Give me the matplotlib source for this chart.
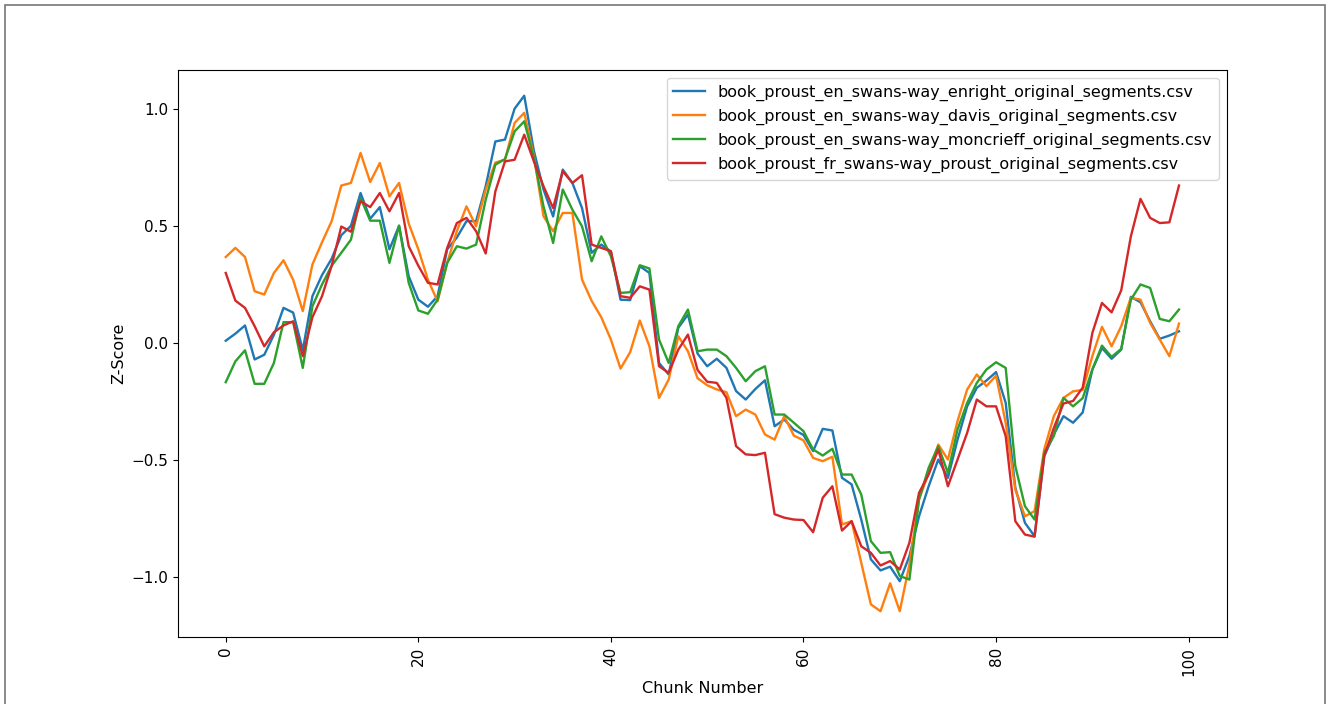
import matplotlib
matplotlib.use('Agg')
from matplotlib import pyplot as plt
import numpy as np

chunks = list(range(100))

enright = [0.01, 0.04, 0.075, -0.07, -0.05, 0.035, 0.15, 0.13, -0.03, 0.2,
           0.29, 0.36, 0.46, 0.5, 0.64, 0.53, 0.58, 0.4, 0.5, 0.285,
           0.185, 0.155, 0.2, 0.4, 0.45, 0.52, 0.52, 0.67, 0.86, 0.868,
           1.0, 1.055, 0.82, 0.655, 0.54, 0.74, 0.683, 0.576, 0.385, 0.42,
           0.39, 0.185, 0.183, 0.328, 0.299, -0.085, -0.134, 0.065, 0.122, -0.045,
           -0.099, -0.067, -0.106, -0.205, -0.241, -0.196, -0.159, -0.355, -0.326, -0.37,
           -0.392, -0.461, -0.366, -0.373, -0.575, -0.603, -0.753, -0.923, -0.97, -0.954,
           -1.016, -0.909, -0.739, -0.611, -0.497, -0.575, -0.412, -0.27, -0.191, -0.16,
           -0.124, -0.255, -0.617, -0.767, -0.824, -0.483, -0.39, -0.312, -0.34, -0.296,
           -0.113, -0.021, -0.067, -0.028, 0.197, 0.174, 0.093, 0.018, 0.032, 0.05]

davis = [0.367, 0.406, 0.367, 0.221, 0.207, 0.299, 0.353, 0.27, 0.136, 0.335,
         0.43, 0.52, 0.672, 0.683, 0.811, 0.687, 0.768, 0.626, 0.683, 0.51,
         0.4, 0.27, 0.178, 0.343, 0.477, 0.583, 0.498, 0.655, 0.77, 0.782,
         0.939, 0.982, 0.797, 0.541, 0.477, 0.555, 0.555, 0.271, 0.18, 0.11,
         0.015, -0.109, -0.039, 0.096, -0.014, -0.234, -0.156, 0.029, -0.035, -0.15,
         -0.18, -0.198, -0.21, -0.312, -0.284, -0.305, -0.39, -0.412, -0.312, -0.395,
         -0.415, -0.49, -0.504, -0.485, -0.774, -0.76, -0.937, -1.115, -1.144, -1.025,
         -1.144, -0.945, -0.667, -0.554, -0.433, -0.497, -0.333, -0.198, -0.134, -0.184,
         -0.139, -0.34, -0.625, -0.739, -0.717, -0.454, -0.312, -0.234, -0.206, -0.2,
         -0.056, 0.069, -0.014, 0.072, 0.193, 0.185, 0.086, 0.015, -0.056, 0.083]

moncrieff = [-0.167, -0.078, -0.031, -0.174, -0.174, -0.085, 0.089, 0.089, -0.106, 0.157,
             0.25, 0.33, 0.385, 0.441, 0.619, 0.522, 0.522, 0.342, 0.501, 0.257,
             0.139, 0.125, 0.185, 0.342, 0.413, 0.403, 0.42, 0.612, 0.761, 0.785,
             0.903, 0.946, 0.79, 0.583, 0.427, 0.655, 0.569, 0.498, 0.349, 0.455,
             0.37, 0.214, 0.217, 0.332, 0.318, 0.015, -0.085, 0.072, 0.143, -0.035,
             -0.028, -0.028, -0.056, -0.106, -0.163, -0.12, -0.099, -0.305, -0.305, -0.34,
             -0.376, -0.454, -0.48, -0.451, -0.561, -0.561, -0.646, -0.845, -0.895, -0.892,
             -0.994, -1.009, -0.667, -0.532, -0.44, -0.554, -0.369, -0.255, -0.17, -0.113,
             -0.082, -0.106, -0.525, -0.696, -0.753, -0.468, -0.397, -0.234, -0.27, -0.235,
             -0.113, -0.011, -0.059, -0.025, 0.185, 0.25, 0.235, 0.103, 0.093, 0.143]

proust = [0.299, 0.181, 0.15, 0.072, -0.014, 0.046, 0.075, 0.093, -0.056, 0.11,
          0.2, 0.33, 0.497, 0.475, 0.605, 0.58, 0.64, 0.562, 0.64, 0.413,
          0.33, 0.257, 0.25, 0.406, 0.512, 0.534, 0.477, 0.382, 0.647, 0.775,
          0.782, 0.889, 0.775, 0.669, 0.576, 0.733, 0.683, 0.716, 0.42, 0.406,
          0.392, 0.2, 0.193, 0.242, 0.228, -0.099, -0.127, -0.028, 0.036, -0.115,
          -0.165, -0.17, -0.234, -0.44, -0.475, -0.478, -0.468, -0.73, -0.745, -0.753,
          -0.755, -0.807, -0.66, -0.611, -0.8, -0.76, -0.867, -0.895, -0.949, -0.93,
          -0.966, -0.852, -0.639, -0.561, -0.454, -0.611, -0.497, -0.383, -0.241, -0.27,
          -0.27, -0.397, -0.76, -0.817, -0.826, -0.483, -0.362, -0.258, -0.247, -0.19,
          0.043, 0.171, 0.131, 0.225, 0.455, 0.615, 0.534, 0.512, 0.515, 0.672]

labels = ['book_proust_en_swans-way_enright_original_segments.csv',
          'book_proust_en_swans-way_davis_original_segments.csv',
          'book_proust_en_swans-way_moncrieff_original_segments.csv',
          'book_proust_fr_swans-way_proust_original_segments.csv']

plt.rcParams['font.size'] = 11

fig = plt.figure(figsize=(13.29, 7.04), dpi=100)
ax = fig.add_axes([0.134, 0.0952, 0.789, 0.8054])

for series, label in zip([enright, davis, moncrieff, proust], labels):
    ax.plot(chunks, series, label=label, linewidth=1.7)

ax.set_xlabel('Chunk Number', fontsize=11.5)
ax.set_ylabel('Z-Score', fontsize=11.5)
ax.tick_params(axis='x', labelrotation=90)
ax.legend(loc='upper right', fontsize=11.5)

# frame around the screenshot
fig.patches.append(plt.Rectangle((0.004, -0.01), 0.993, 1.003, transform=fig.transFigure,
                                 fill=False, edgecolor='#777777', linewidth=1.2))

fig.savefig('out.png', dpi=100)
